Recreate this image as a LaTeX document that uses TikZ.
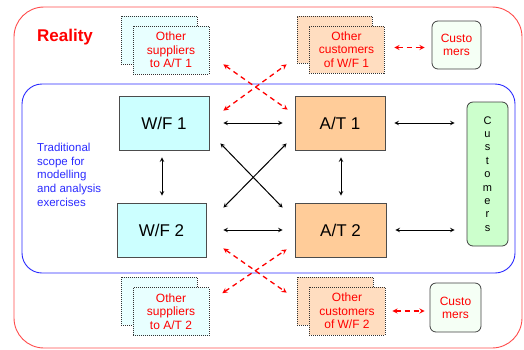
\documentclass[tikz,border=0pt]{standalone}
\usepackage{fontspec}
\setmainfont{Liberation Sans}
\definecolor{wfcol}{HTML}{CCFFFF}
\definecolor{atcol}{HTML}{FFCC99}
\definecolor{cucol}{HTML}{CCFFCC}
\definecolor{supcol}{HTML}{E8FFFF}
\definecolor{ocucol}{HTML}{FFDDC0}
\definecolor{scopeblue}{HTML}{2A2AFF}
\tikzset{
  unit/.style={draw=black!70,line width=0.8pt,minimum width=90pt,minimum height=54pt,inner sep=0pt,font=\fontsize{17}{20}\selectfont},
  other/.style={draw=black!80,dash pattern=on 1pt off 1pt,line width=0.7pt,minimum width=76pt,minimum height=48pt,inner sep=0pt,align=center,text=red,font=\fontsize{12}{13.7}\selectfont},
  cusbox/.style={draw=black!75,line width=0.8pt,rounded corners=6pt,inner sep=0pt,align=center},
  redarr/.style={<->,red,line width=1.3pt,dash pattern=on 5pt off 4pt},
  blkarr/.style={<->,line width=1pt}
}
\begin{document}
\begin{tikzpicture}[>=stealth,x=1pt,y=-1pt]
  \useasboundingbox (0,0) rectangle (524,349);
  % outer and inner frames
  \draw[red!70,line width=0.9pt,rounded corners=30pt] (14,7) rectangle (522,348);
  \draw[scopeblue,line width=0.9pt,rounded corners=20pt] (22,84) rectangle (515,273);
  \node[text=red,font=\fontsize{17}{20}\selectfont\bfseries] (reality) at (65,37) {Reality};
  \node[text=scopeblue,align=left,anchor=north west,inner sep=0pt,font=\fontsize{11.5}{13.7}\selectfont] (scope) at (37,143)
    {Traditional\\scope for\\modelling\\and analysis\\exercises};
  % model units
  \node[unit,fill=wfcol] (wf1) at (164,123) {W/F 1};
  \node[unit,fill=wfcol,minimum width=89pt] (wf2) at (161.5,230) {W/F 2};
  \node[unit,fill=atcol] (at1) at (340,123) {A/T 1};
  \node[unit,fill=atcol,minimum width=91pt] (at2) at (340.5,230) {A/T 2};
  \node[cusbox,fill=cucol,minimum width=41pt,minimum height=144pt,font=\fontsize{11}{13.4}\selectfont] (cust) at (487.5,174)
    {C\\u\\s\\t\\o\\m\\e\\r\\s};
  % outside the scope, top
  \node[other,fill=supcol] (supA1b) at (159,40) {};
  \node[other,fill=supcol] (supA1) at (171,50) {Other\\suppliers\\to A/T 1};
  \node[other,fill=ocucol,minimum width=75pt,minimum height=47pt] (cusW1b) at (334.5,39.5) {};
  \node[other,fill=ocucol,minimum width=75pt,minimum height=47pt] (cusW1) at (346.5,49.5) {Other\\customers\\of W/F 1};
  \node[cusbox,fill=green!4,text=red,minimum width=49pt,minimum height=48pt,font=\fontsize{12}{13}\selectfont] (cust1) at (456.5,45) {Custo\\mers};
  % outside the scope, bottom
  \node[other,fill=supcol] (supA2b) at (159,301) {};
  \node[other,fill=supcol] (supA2) at (171,311.5) {Other\\suppliers\\to A/T 2};
  \node[other,fill=ocucol] (cusW2b) at (335,301) {};
  \node[other,fill=ocucol] (cusW2) at (347,311) {Other\\customers\\of W/F 2};
  \node[cusbox,fill=green!4,text=red,minimum width=51pt,minimum height=49pt,font=\fontsize{12}{13}\selectfont] (cust2) at (455.5,307.5) {Custo\\mers};
  % flows inside the scope
  \draw[blkarr,shorten <=14pt,shorten >=12pt] (wf1.east) -- (wf1.east -| at1.west);
  \draw[blkarr,shorten <=17pt,shorten >=12pt] (wf2.east) -- (wf2.east -| at2.west);
  \draw[blkarr,shorten <=9pt,shorten >=12pt] (at1.east) -- (at1.east -| cust.west);
  \draw[blkarr,shorten <=9pt,shorten >=12pt] (at2.east) -- (at2.east -| cust.west);
  \draw[blkarr,shorten <=7pt,shorten >=7pt] ([xshift=-2pt]wf1.south) -- ([xshift=-2pt]wf1.south |- wf2.north);
  \draw[blkarr,shorten <=7pt,shorten >=7pt] ([xshift=1pt]at1.south) -- ([xshift=1pt]at1.south |- at2.north);
  \draw[blkarr] ([shift={(11,-7)}]wf1.south east) -- ([shift={(-12,5)}]at2.north west);
  \draw[blkarr] ([shift={(17,5)}]wf2.north east) -- ([shift={(-8,-7)}]at1.south west);
  % flows crossing the scope
  \draw[redarr] ([shift={(14,-10)}]supA1.south east) -- ([shift={(-7,14)}]at1.north west);
  \draw[redarr] ([shift={(14,15)}]wf1.north east) -- ([shift={(-22,-9)}]cusW1.south west);
  \draw[redarr] ([shift={(17,-9)}]wf2.south east) -- ([shift={(-22,6)}]cusW2.north west);
  \draw[redarr] ([shift={(13,6)}]supA2.north east) -- ([shift={(-8,-8)}]at2.south west);
  \draw[redarr,shorten <=10pt,shorten >=7pt] ([yshift=2pt]cusW1.east) -- ([yshift=2pt]cusW1.east -| cust1.west);
  \draw[redarr,shorten <=7pt,shorten >=5pt] (cusW2.east) -- (cusW2.east -| cust2.west);
\end{tikzpicture}
\end{document}
